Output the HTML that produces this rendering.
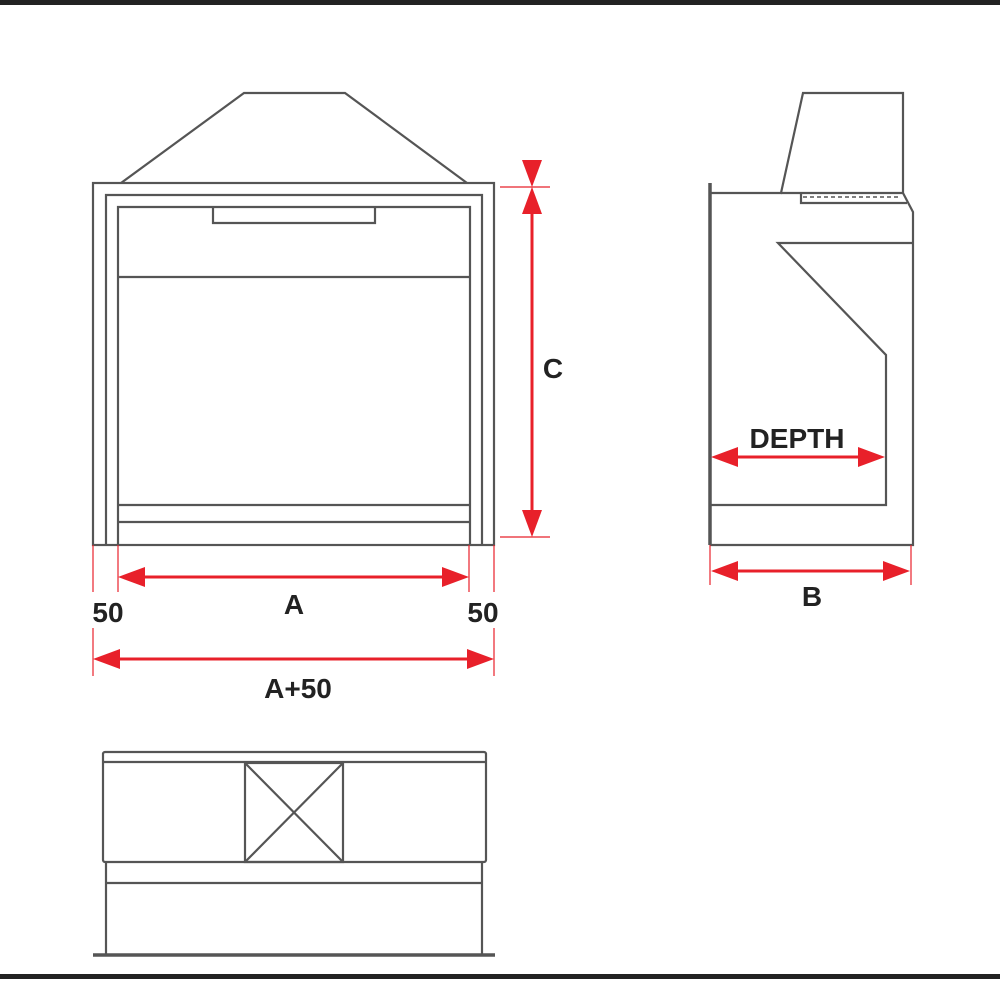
<!DOCTYPE html>
<html><head><style>body{margin:0;background:#fff}svg{display:block}</style></head><body>
<svg width="1000" height="1000" viewBox="0 0 1000 1000" xmlns="http://www.w3.org/2000/svg" font-family="Liberation Sans, Arial, sans-serif">
<rect x="0" y="0" width="1000" height="5" fill="#222"/>
<rect x="0" y="974" width="1000" height="5" fill="#222"/>
<g fill="none" stroke="#555" stroke-width="2.2">
<polyline points="121,183 244,93 345,93 467,183"/>
<rect x="93" y="183" width="401" height="362"/>
<polyline points="106,545 106,195 482,195 482,545"/>
<polyline points="118,545 118,207 470,207 470,545"/>
<polyline points="213,207 213,223 375,223 375,207"/>
<line x1="118" y1="277" x2="470" y2="277"/>
<line x1="118" y1="505" x2="470" y2="505"/>
<line x1="118" y1="522" x2="470" y2="522"/>
<line x1="710" y1="183" x2="710" y2="545" stroke-width="3.5"/>
<polyline points="710,193 781,193 803,93 903,93 903,193 913,212 913,545 710,545"/>
<line x1="781" y1="193" x2="903" y2="193"/>
<polyline points="801,193 801,203 907,203"/>
<line x1="803" y1="197" x2="898" y2="197" stroke-dasharray="4,3" stroke-width="1.5"/>
<polyline points="913,243 778,243 886,355 886,505 710,505"/>
<rect x="103" y="752" width="383" height="110" rx="2"/>
<line x1="103" y1="762" x2="486" y2="762"/>
<rect x="245" y="763" width="98" height="99"/>
<line x1="245" y1="763" x2="343" y2="862"/>
<line x1="343" y1="763" x2="245" y2="862"/>
<line x1="106" y1="862" x2="106" y2="955"/>
<line x1="482" y1="862" x2="482" y2="955"/>
<line x1="106" y1="883" x2="482" y2="883"/>
<line x1="93" y1="955" x2="495" y2="955" stroke-width="3.5"/>
</g>
<g stroke="#e8202a" stroke-width="1.2" fill="none">
<line x1="500" y1="187" x2="550" y2="187"/>
<line x1="500" y1="537" x2="550" y2="537"/>
<line x1="93" y1="545" x2="93" y2="592"/><line x1="93" y1="628" x2="93" y2="676"/>
<line x1="118" y1="545" x2="118" y2="592"/>
<line x1="469" y1="545" x2="469" y2="592"/>
<line x1="494" y1="545" x2="494" y2="592"/><line x1="494" y1="628" x2="494" y2="676"/>
<line x1="710" y1="545" x2="710" y2="585"/>
<line x1="911" y1="545" x2="911" y2="585"/>
</g>
<g stroke="#e8202a" stroke-width="3" fill="none">
<line x1="532" y1="200" x2="532" y2="520"/>
<line x1="135" y1="577" x2="452" y2="577"/>
<line x1="110" y1="659" x2="477" y2="659"/>
<line x1="730" y1="457" x2="866" y2="457"/>
<line x1="730" y1="571" x2="892" y2="571"/>
</g>
<g fill="#e8202a">
<polygon points="532,187 522,160 542,160"/>
<polygon points="532,187 522,214 542,214"/>
<polygon points="532,537 522,510 542,510"/>
<polygon points="118,577 145,567 145,587"/>
<polygon points="469,577 442,567 442,587"/>
<polygon points="93,659 120,649 120,669"/>
<polygon points="494,659 467,649 467,669"/>
<polygon points="711,457 738,447 738,467"/>
<polygon points="885,457 858,447 858,467"/>
<polygon points="711,571 738,561 738,581"/>
<polygon points="910,571 883,561 883,581"/>
</g>
<g fill="#222" font-weight="bold" font-size="28" text-anchor="middle">
<text x="553" y="378">C</text>
<text x="294" y="614">A</text>
<text x="108" y="622">50</text>
<text x="483" y="622">50</text>
<text x="298" y="698">A+50</text>
<text x="797" y="448">DEPTH</text>
<text x="812" y="606">B</text>
</g>
</svg>
</body></html>
